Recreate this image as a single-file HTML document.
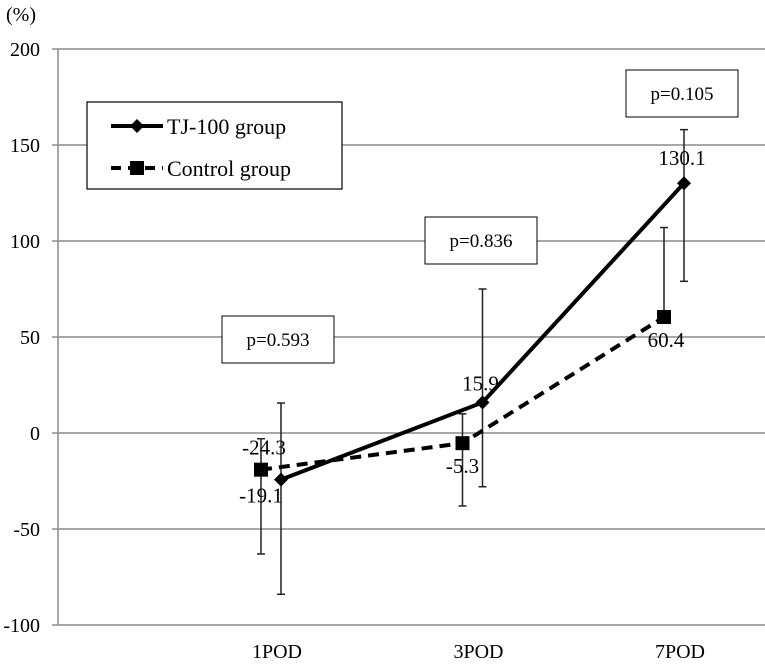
<!DOCTYPE html>
<html><head><meta charset="utf-8"><style>
body{margin:0;background:#fff}
text{font-family:"Liberation Serif","Noto Serif CJK SC",serif;fill:#000}
</style></head><body>
<svg id="chart" width="765" height="663" xmlns="http://www.w3.org/2000/svg">
<g id="grid"></g><g id="series"></g><g id="overlay"></g>
</svg>
<script>
const categories=["1POD","3POD","7POD"];
const yTicks=[-100,-50,0,50,100,150,200];
const tjValues=[-24.3,15.9,130.1];
const tjUpper=[15.6,75,158];
const tjLower=[-84,-28,79];
const tjLabels=["-24.3","15.9","130.1"];
const ctrlValues=[-19.1,-5.3,60.4];
const ctrlUpper=[-3,10,107];
const ctrlLower=[-63,-38,60.4];
const ctrlLabels=["-19.1","-5.3","60.4"];
const pValues=["p=0.593","p=0.836","p=0.105"];

const NS="http://www.w3.org/2000/svg";
const svg=document.getElementById('chart');
const gGrid=document.getElementById('grid'),gS=document.getElementById('series'),gO=document.getElementById('overlay');
const y=v=>433-v*1.92;
const cx=i=>271+i*201.5;
function mk(p,t,a){const e=document.createElementNS(NS,t);for(const k in a)e.setAttribute(k,a[k]);p.appendChild(e);return e;}
yTicks.forEach(t=>{
  const l=mk(gGrid,'line',{x1:52,x2:765,y1:y(t),y2:y(t),stroke:'#8c8c8c','stroke-width':1.5});
  
  
  const tx=mk(gGrid,'text',{x:40,y:y(t)+7,'text-anchor':'end','font-size':20});
  tx.textContent=t;
  
  
});
const ax=mk(gGrid,'line',{x1:58,x2:58,y1:y(200),y2:y(-100),stroke:'#8c8c8c','stroke-width':1.5});


const unit=mk(gGrid,'text',{x:6,y:21,'font-size':20});unit.textContent='(%)';


categories.forEach((c,i)=>{
  const t=mk(gGrid,'text',{x:cx(i)+6,y:658,'text-anchor':'middle','font-size':20});t.textContent=c;
  
  
});
function errBars(vals,up,lo,off,name){
  vals.forEach((v,i)=>{const x=cx(i)+off;
    const g=mk(gS,'g',{stroke:'#222','stroke-width':1.5});
    
    
    mk(g,'line',{x1:x,x2:x,y1:y(up[i]),y2:y(lo[i])});
    mk(g,'line',{x1:x-4,x2:x+4,y1:y(up[i]),y2:y(up[i])});
    if(lo[i]!==v)mk(g,'line',{x1:x-4,x2:x+4,y1:y(lo[i]),y2:y(lo[i])});
  });
}
errBars(tjValues,tjUpper,tjLower,10,'tj100');
errBars(ctrlValues,ctrlUpper,ctrlLower,-10,'control');
const cp=mk(gS,'polyline',{points:ctrlValues.map((v,i)=>(cx(i)-10)+','+y(v)).join(' '),fill:'none',stroke:'#000','stroke-width':4,'stroke-dasharray':'11,7'});


const tp=mk(gS,'polyline',{points:tjValues.map((v,i)=>(cx(i)+10)+','+y(v)).join(' '),fill:'none',stroke:'#000','stroke-width':4});


ctrlValues.forEach((v,i)=>{
  const r=mk(gS,'rect',{x:cx(i)-10-7,y:y(v)-7,width:14,height:14,fill:'#000'});
  
  
  const t=mk(gO,'text',{x:cx(i)-10+(i==2?2:0),y:y(v)+(i==1?30:i==2?30:33),'text-anchor':'middle','font-size':21});t.textContent=ctrlLabels[i];
  
  
});
tjValues.forEach((v,i)=>{const x=cx(i)+10,yy=y(v);
  const d=mk(gS,'polygon',{points:`${x},${yy-7} ${x+7},${yy} ${x},${yy+7} ${x-7},${yy}`,fill:'#000'});
  
  
  const t=mk(gO,'text',{x:x-(i==0?17:2),y:yy-(i==0?25:i==1?12:18),'text-anchor':'middle','font-size':21});t.textContent=tjLabels[i];
  
  
});
const pBoxes=[[222,316],[425,217],[626,70]];
pValues.forEach((p,i)=>{const [bx,by]=pBoxes[i];
  const g=mk(gO,'g',{});
  
  
  mk(g,'rect',{x:bx,y:by,width:112,height:47,fill:'#fff',stroke:'#000','stroke-width':1});
  const t=mk(g,'text',{x:bx+56,y:by+30,'text-anchor':'middle','font-size':19});t.textContent=p;
});
const lg=mk(gO,'g',{});


mk(lg,'rect',{x:87,y:102,width:255,height:87,fill:'#fff',stroke:'#000','stroke-width':1.2});
mk(lg,'line',{x1:111,x2:163,y1:126,y2:126,stroke:'#000','stroke-width':4});
mk(lg,'polygon',{points:'137,119 144,126 137,133 130,126',fill:'#000'});
const l1=mk(lg,'text',{x:167,y:134,'font-size':22});l1.textContent='TJ-100 group';


mk(lg,'line',{x1:111,x2:163,y1:168,y2:168,stroke:'#000','stroke-width':4,'stroke-dasharray':'10,7'});
mk(lg,'rect',{x:130,y:161,width:14,height:14,fill:'#000'});
const l2=mk(lg,'text',{x:167,y:176,'font-size':22});l2.textContent='Control group';


</script>
</body></html>
